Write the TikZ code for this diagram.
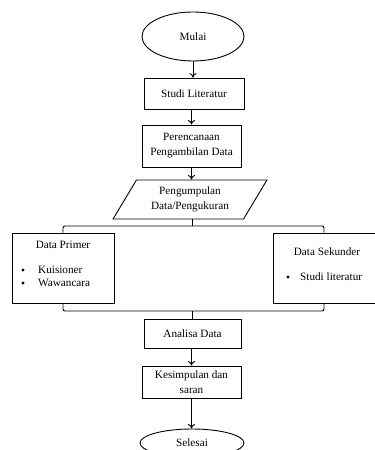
\documentclass[tikz,border=0pt]{standalone}
\usepackage{fontspec}
\setmainfont{Liberation Serif}
\usetikzlibrary{shapes.geometric,arrows.meta}
\begin{document}
\begin{tikzpicture}[x=1bp,y=-1bp,
  every node/.style={font=\fontsize{11.2bp}{15bp}\selectfont},
  box/.style={draw, rectangle, inner sep=0pt, align=center, line width=0.9bp},
  term/.style={draw, ellipse, inner sep=0pt, line width=0.9bp},
  txt/.style={inner sep=0pt},
  dot/.style={circle, fill, inner sep=0pt, minimum size=3.2bp},
  link/.style={line width=0.9bp},
  arr/.style={link, -{To[length=4.5bp,width=7bp]}},
]
\useasboundingbox (0,0) rectangle (374,450);
\node[term, minimum width=102bp, minimum height=49bp] (mulai) at (193,36.5) {Mulai};
\node[box, minimum width=100bp, minimum height=31bp] (studi) at (194,93.5) {Studi Literatur};
\node[box, minimum width=99bp, minimum height=42bp] (renc) at (191.5,146) {Perencanaan\\Pengambilan Data};
\node[trapezium, draw, line width=0.9bp, trapezium left angle=56, trapezium right angle=124,
      trapezium stretches=true, minimum width=154bp, minimum height=39bp, inner sep=0pt,
      align=center] (kumpul) at (190,199.5) {Pengumpulan\\Data/Pengukuran};
\node[box, minimum width=102bp, minimum height=70bp] (primer) at (63,268) {};
\node[txt] (primT) at (63,245) {Data Primer};
\node[dot] (b1) at (23,270) {};
\node[txt, anchor=west] (p1) at (38,270) {Kuisioner};
\node[dot] (b2) at (23,283) {};
\node[txt, anchor=west] (p2) at (38,283) {Wawancara};
\node[box, minimum width=102bp, minimum height=70bp] (sekunder) at (324,268) {};
\node[txt] (sekT) at (327,252) {Data Sekunder};
\node[dot] (b3) at (288,277) {};
\node[txt, anchor=west] (s1) at (300,277) {Studi literatur};
\node[box, minimum width=97bp, minimum height=29bp] (analisa) at (192.5,333.5) {Analisa Data};
\node[box, minimum width=99bp, minimum height=32bp] (simpul) at (191.5,382) {Kesimpulan dan\\saran};
\node[term, minimum width=104bp, minimum height=28bp] (selesai) at (192,443) {Selesai};
\coordinate (split) at (192,226);
\coordinate (join) at (192,311);
\draw[arr] (mulai.south) -- (mulai.south |- studi.north);
\draw[arr] (studi.south -| renc.north) -- (renc.north);
\draw[arr] (renc.south) -- (renc.south |- kumpul.north);
\draw[link] (kumpul.south -| split) -- (split);
\draw[link, rounded corners=2bp] (primer.north) |- (split) -| (sekunder.north);
\draw[link, rounded corners=2bp] (primer.south) |- (join) -| (sekunder.south);
\draw[link] (join) -- (join |- analisa.north);
\draw[arr] (analisa.south -| simpul.north) -- (simpul.north);
\draw[arr] (simpul.south) -- (simpul.south |- selesai.north);
\end{tikzpicture}
\end{document}
